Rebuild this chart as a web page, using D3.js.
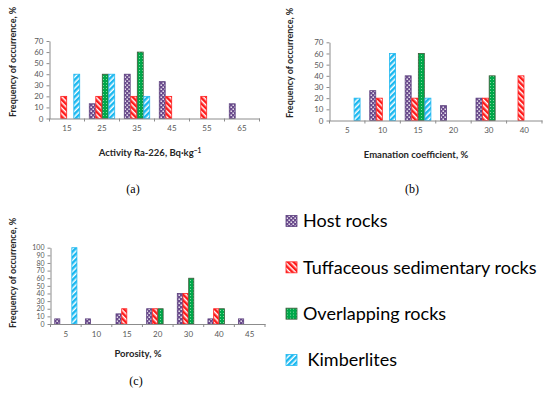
<!DOCTYPE html>
<html>
<head>
<meta charset="utf-8">
<script src="https://cdn.jsdelivr.net/npm/d3@7"></script>
<style>
  body { margin: 0; background: #fff; }
  svg { display: block; }
</style>
</head>
<body>
<script>
const seriesNames = ["Host rocks", "Tuffaceous sedimentary rocks", "Overlapping rocks", " Kimberlites"];
const seriesKeys = ["host", "tuff", "over", "kimb"];

// (a) Activity Ra-226
const catsA = ["15", "25", "35", "45", "55", "65"];
const hostA = [0, 13.3, 40, 33.3, 0, 13.3];
const tuffA = [20, 20, 20, 20, 20, 0];
const overA = [0, 40, 60, 0, 0, 0];
const kimbA = [40, 40, 20, 0, 0, 0];

// (b) Emanation coefficient
const catsB = ["5", "10", "15", "20", "30", "40"];
const hostB = [0, 26.7, 40, 13.3, 20, 0];
const tuffB = [0, 20, 20, 0, 20, 40];
const overB = [0, 0, 60, 0, 40, 0];
const kimbB = [20, 60, 20, 0, 0, 0];

// (c) Porosity
const catsC = ["5", "10", "15", "20", "30", "40", "45"];
const hostC = [6.7, 6.7, 13.3, 20, 40, 6.7, 6.7];
const tuffC = [0, 0, 20, 20, 40, 20, 0];
const overC = [0, 0, 0, 20, 60, 20, 0];
const kimbC = [100, 0, 0, 0, 0, 0, 0];

const svg = d3.select("body").append("svg")
  .attr("width", 550)
  .attr("height", 399);

const defs = svg.append("defs");

// host rocks: purple with white checker dots
const pHost = defs.append("pattern").attr("id", "p-host")
  .attr("patternUnits", "userSpaceOnUse").attr("width", 4).attr("height", 4);
pHost.append("rect").attr("width", 4).attr("height", 4).attr("fill", "#6a4a8c");
pHost.append("rect").attr("x", 0.5).attr("y", 0.5).attr("width", 1.4).attr("height", 1.4).attr("fill", "#fff");
pHost.append("rect").attr("x", 2.5).attr("y", 2.5).attr("width", 1.4).attr("height", 1.4).attr("fill", "#fff");

// tuffaceous: red with white "\" stripes
const pTuff = defs.append("pattern").attr("id", "p-tuff")
  .attr("patternUnits", "userSpaceOnUse").attr("width", 4).attr("height", 4)
  .attr("patternTransform", "rotate(-45)");
pTuff.append("rect").attr("width", 4).attr("height", 4).attr("fill", "#fff");
pTuff.append("rect").attr("width", 2.5).attr("height", 4).attr("fill", "#ff1a1a");

// overlapping: green with light dots
const pOver = defs.append("pattern").attr("id", "p-over")
  .attr("patternUnits", "userSpaceOnUse").attr("width", 3).attr("height", 3);
pOver.append("rect").attr("width", 3).attr("height", 3).attr("fill", "#00a84a");
pOver.append("rect").attr("x", 1).attr("y", 1).attr("width", 1).attr("height", 1).attr("fill", "#7fd9a0");

// kimberlites: cyan with white "/" stripes
const pKimb = defs.append("pattern").attr("id", "p-kimb")
  .attr("patternUnits", "userSpaceOnUse").attr("width", 4).attr("height", 4)
  .attr("patternTransform", "rotate(45)");
pKimb.append("rect").attr("width", 4).attr("height", 4).attr("fill", "#fff");
pKimb.append("rect").attr("width", 2.5).attr("height", 4).attr("fill", "#1ab8f0");

const fills = { host: "url(#p-host)", tuff: "url(#p-tuff)", over: "url(#p-over)", kimb: "url(#p-kimb)" };
const strokes = { host: "#5b3f7d", tuff: "#ff2020", over: "#3f5a3a", kimb: "#20b8f0" };

const drawPanel = (cfg) => {
  const g = svg.append("g");
  const x = d3.scaleBand().domain(cfg.cats).range([cfg.x0, cfg.x1]).padding(0);
  const xs = d3.scaleBand().domain(seriesKeys).range([0, x.bandwidth()])
    .paddingInner(0).paddingOuter(0.69);
  const y = d3.scaleLinear().domain([0, cfg.max]).range([cfg.yb, cfg.yt]);

  const rows = [];
  cfg.cats.forEach((c, i) => {
    seriesKeys.forEach((k) => {
      const v = cfg.values[k][i];
      if (v > 0) rows.push({ cat: c, key: k, value: v });
    });
  });

  g.selectAll("rect.bar")
    .data(rows)
    .enter()
    .append("rect")
    .attr("class", "bar")
    .attr("x", (d) => x(d.cat) + xs(d.key) + 0.3)
    .attr("y", (d) => y(d.value))
    .attr("width", xs.bandwidth() - 0.6)
    .attr("height", (d) => y(0) - y(d.value))
    .attr("fill", (d) => fills[d.key])
    .attr("stroke", (d) => strokes[d.key])
    .attr("stroke-width", 0.8);

  const yAxis = g.append("g")
    .attr("transform", "translate(" + cfg.x0 + ",0)")
    .call(d3.axisLeft(y).tickValues(d3.range(0, cfg.max + 1, 10)).tickSize(3).tickSizeOuter(0).tickPadding(3));
  yAxis.select(".domain").attr("stroke", "#8c8c8c");
  yAxis.selectAll(".tick line").attr("stroke", "#8c8c8c");
  yAxis.selectAll("text")
    .attr("fill", "#595959")
    .style("font-family", "Lato, 'Liberation Sans', sans-serif")
    .style("font-size", cfg.yFont + "px");

  const xAxis = g.append("g")
    .attr("transform", "translate(0," + cfg.yb + ")")
    .call(d3.axisBottom(x).tickSize(0).tickSizeOuter(0).tickPadding(7));
  xAxis.select(".domain").attr("stroke", "#8c8c8c");
  xAxis.selectAll("text")
    .attr("fill", "#595959")
    .style("font-family", "Lato, 'Liberation Sans', sans-serif")
    .style("font-size", "8px");

  // boundary ticks between categories
  const bounds = cfg.cats.map((c) => x(c)).concat([cfg.x1]);
  xAxis.selectAll("line.bound")
    .data(bounds)
    .enter()
    .append("line")
    .attr("class", "bound")
    .attr("x1", (d) => d)
    .attr("x2", (d) => d)
    .attr("y1", 0)
    .attr("y2", 3)
    .attr("stroke", "#8c8c8c");

  // y title
  g.append("text")
    .attr("transform", "translate(" + cfg.ytx + "," + cfg.yty + ") rotate(-90)")
    .attr("text-anchor", "middle")
    .attr("dy", "0.35em")
    .style("font-family", "Lato, 'Liberation Sans', sans-serif")
    .style("font-weight", "bold")
    .style("font-size", "9px")
    .attr("fill", "#262626")
    .text("Frequency of occurrence, %");

  // x title
  const xt = g.append("text")
    .attr("x", cfg.xtx)
    .attr("y", cfg.xty)
    .attr("text-anchor", "middle")
    .style("font-family", "Lato, 'Liberation Sans', sans-serif")
    .style("font-weight", "bold")
    .style("font-size", "9.5px")
    .attr("fill", "#262626");
  xt.append("tspan").text(cfg.xTitle);
  if (cfg.xSup) {
    xt.append("tspan").attr("dy", "-0.45em").style("font-size", "6.5px").text(cfg.xSup);
  }

  // panel letter
  g.append("text")
    .attr("x", cfg.lx)
    .attr("y", cfg.ly)
    .attr("text-anchor", "middle")
    .attr("dy", "0.35em")
    .style("font-family", "'Liberation Serif', 'DejaVu Serif', serif")
    .style("font-size", "12px")
    .attr("fill", "#000")
    .text(cfg.letter);
};

drawPanel({
  cats: catsA, values: { host: hostA, tuff: tuffA, over: overA, kimb: kimbA },
  max: 70, x0: 49.5, x1: 259.5, yb: 118.5, yt: 41, yFont: 8,
  ytx: 13, yty: 62, xtx: 150, xty: 156,
  xTitle: "Activity Ra-226, Bq·kg", xSup: "−1",
  letter: "(a)", lx: 133, ly: 189
});

drawPanel({
  cats: catsB, values: { host: hostB, tuff: tuffB, over: overB, kimb: kimbB },
  max: 70, x0: 329.5, x1: 542, yb: 120.5, yt: 42.3, yFont: 8,
  ytx: 290, yty: 63, xtx: 416, xty: 158,
  xTitle: "Emanation coefficient, %",
  letter: "(b)", lx: 412, ly: 189
});

drawPanel({
  cats: catsC, values: { host: hostC, tuff: tuffC, over: overC, kimb: kimbC },
  max: 100, x0: 50.5, x1: 265, yb: 324, yt: 247.7, yFont: 7,
  ytx: 13, yty: 273, xtx: 138, xty: 357,
  xTitle: "Porosity, %",
  letter: "(c)", lx: 136, ly: 381
});

// legend
const legendY = d3.scalePoint().domain(seriesKeys).range([221, 360]);
const legend = svg.append("g");
const items = legend.selectAll("g")
  .data(seriesKeys)
  .enter()
  .append("g")
  .attr("transform", (d) => "translate(286," + legendY(d) + ")");

items.append("rect")
  .attr("x", 0)
  .attr("y", -5.5)
  .attr("width", 11)
  .attr("height", 11)
  .attr("fill", (d) => fills[d])
  .attr("stroke", (d) => strokes[d])
  .attr("stroke-width", 0.8);

items.append("text")
  .attr("x", 17)
  .attr("dy", "0.36em")
  .style("font-family", "Lato, 'Liberation Sans', sans-serif")
  .style("font-size", "18px")
  .style("white-space", "pre")
  .attr("fill", "#000")
  .text((d, i) => seriesNames[i]);
</script>
</body>
</html>
